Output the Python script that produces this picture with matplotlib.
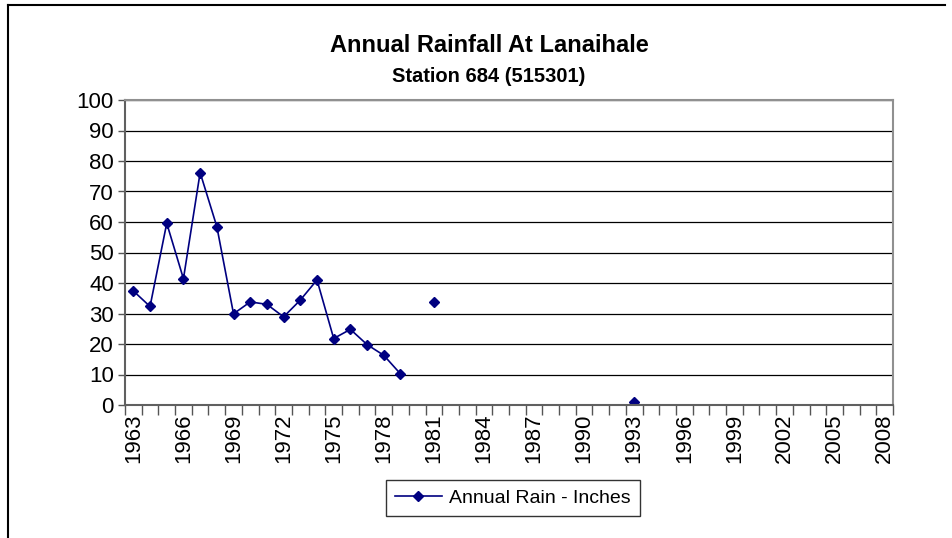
import numpy as np
import matplotlib
matplotlib.use("Agg")
import matplotlib.pyplot as plt
from matplotlib.lines import Line2D

plt.rcParams['font.family'] = ['Liberation Sans', 'DejaVu Sans']

years = list(range(1963, 2009))
nan = np.nan
rain = [37.4, 32.3, 59.6, 41.4, 76.2, 58.5, 29.9, 33.8, 33.0, 28.9,
        34.4, 41.0, 21.8, 24.8, 19.8, 16.3, 10.2, nan, 33.8, nan,
        nan, nan, nan, nan, nan, nan, nan, nan, nan, nan,
        1.0, nan, nan, nan, nan, nan, nan, nan, nan, nan,
        nan, nan, nan, nan, nan, nan]
tick_labels = [str(y) for y in years[::3]]

fig = plt.figure(figsize=(9.53, 5.38), dpi=100)
ax = fig.add_axes([125/953, 1-405/538, (893-125)/953, (405-100)/538])

x = np.arange(len(years))
ax.plot(x, rain, color='#000080', lw=1.2, marker='D', ms=5.5,
        markerfacecolor='#000080', markeredgecolor='#000080',
        label='Annual Rain - Inches')

ax.set_xlim(-0.5, len(years) - 0.5)
ax.set_ylim(0, 100)
ax.set_yticks(np.arange(0, 101, 10))
ax.yaxis.grid(True, color='black', lw=0.9)
ax.set_axisbelow(True)

# category ticks between categories, labels every 3rd
ax.set_xticks(np.arange(-0.5, len(years), 1.0))
ax.set_xticklabels([])
ax.set_xticks(x[::3], minor=True)
ax.set_xticklabels(tick_labels, minor=True, rotation=90, fontsize=16)
ax.tick_params(axis='x', which='major', length=7, width=1, color='#555555', direction='out')
ax.tick_params(axis='x', which='minor', length=0, pad=6)
ax.tick_params(axis='y', length=5, width=1, color='#555555', labelsize=16, pad=3)

for s in ['top', 'right']:
    ax.spines[s].set_color('#909090')
    ax.spines[s].set_linewidth(1.5)
for s in ['left', 'bottom']:
    ax.spines[s].set_color('#606060')
    ax.spines[s].set_linewidth(1.5)

fig.text(489/953, 1-45/538, 'Annual Rainfall At Lanaihale', ha='center', va='center',
         fontsize=17, fontweight='bold')
fig.text(489/953, 1-76/538, 'Station 684 (515301)', ha='center', va='center',
         fontsize=14.5, fontweight='bold')

leg = fig.legend(loc='center', bbox_to_anchor=(513/953, 1-498/538), fontsize=14,
                 frameon=True, fancybox=False, edgecolor='black', handlelength=2.4,
                 borderpad=0.45, handletextpad=0.4)
leg.get_frame().set_linewidth(1.0)

# outer chart border (top and left visible)
fig.add_artist(Line2D([8/953, 8/953], [0, 1-5/538], color='black', lw=1.5, transform=fig.transFigure))
fig.add_artist(Line2D([8/953, 945/953], [1-5/538, 1-5/538], color='black', lw=1.5, transform=fig.transFigure))

fig.savefig('out.png', dpi=100)
